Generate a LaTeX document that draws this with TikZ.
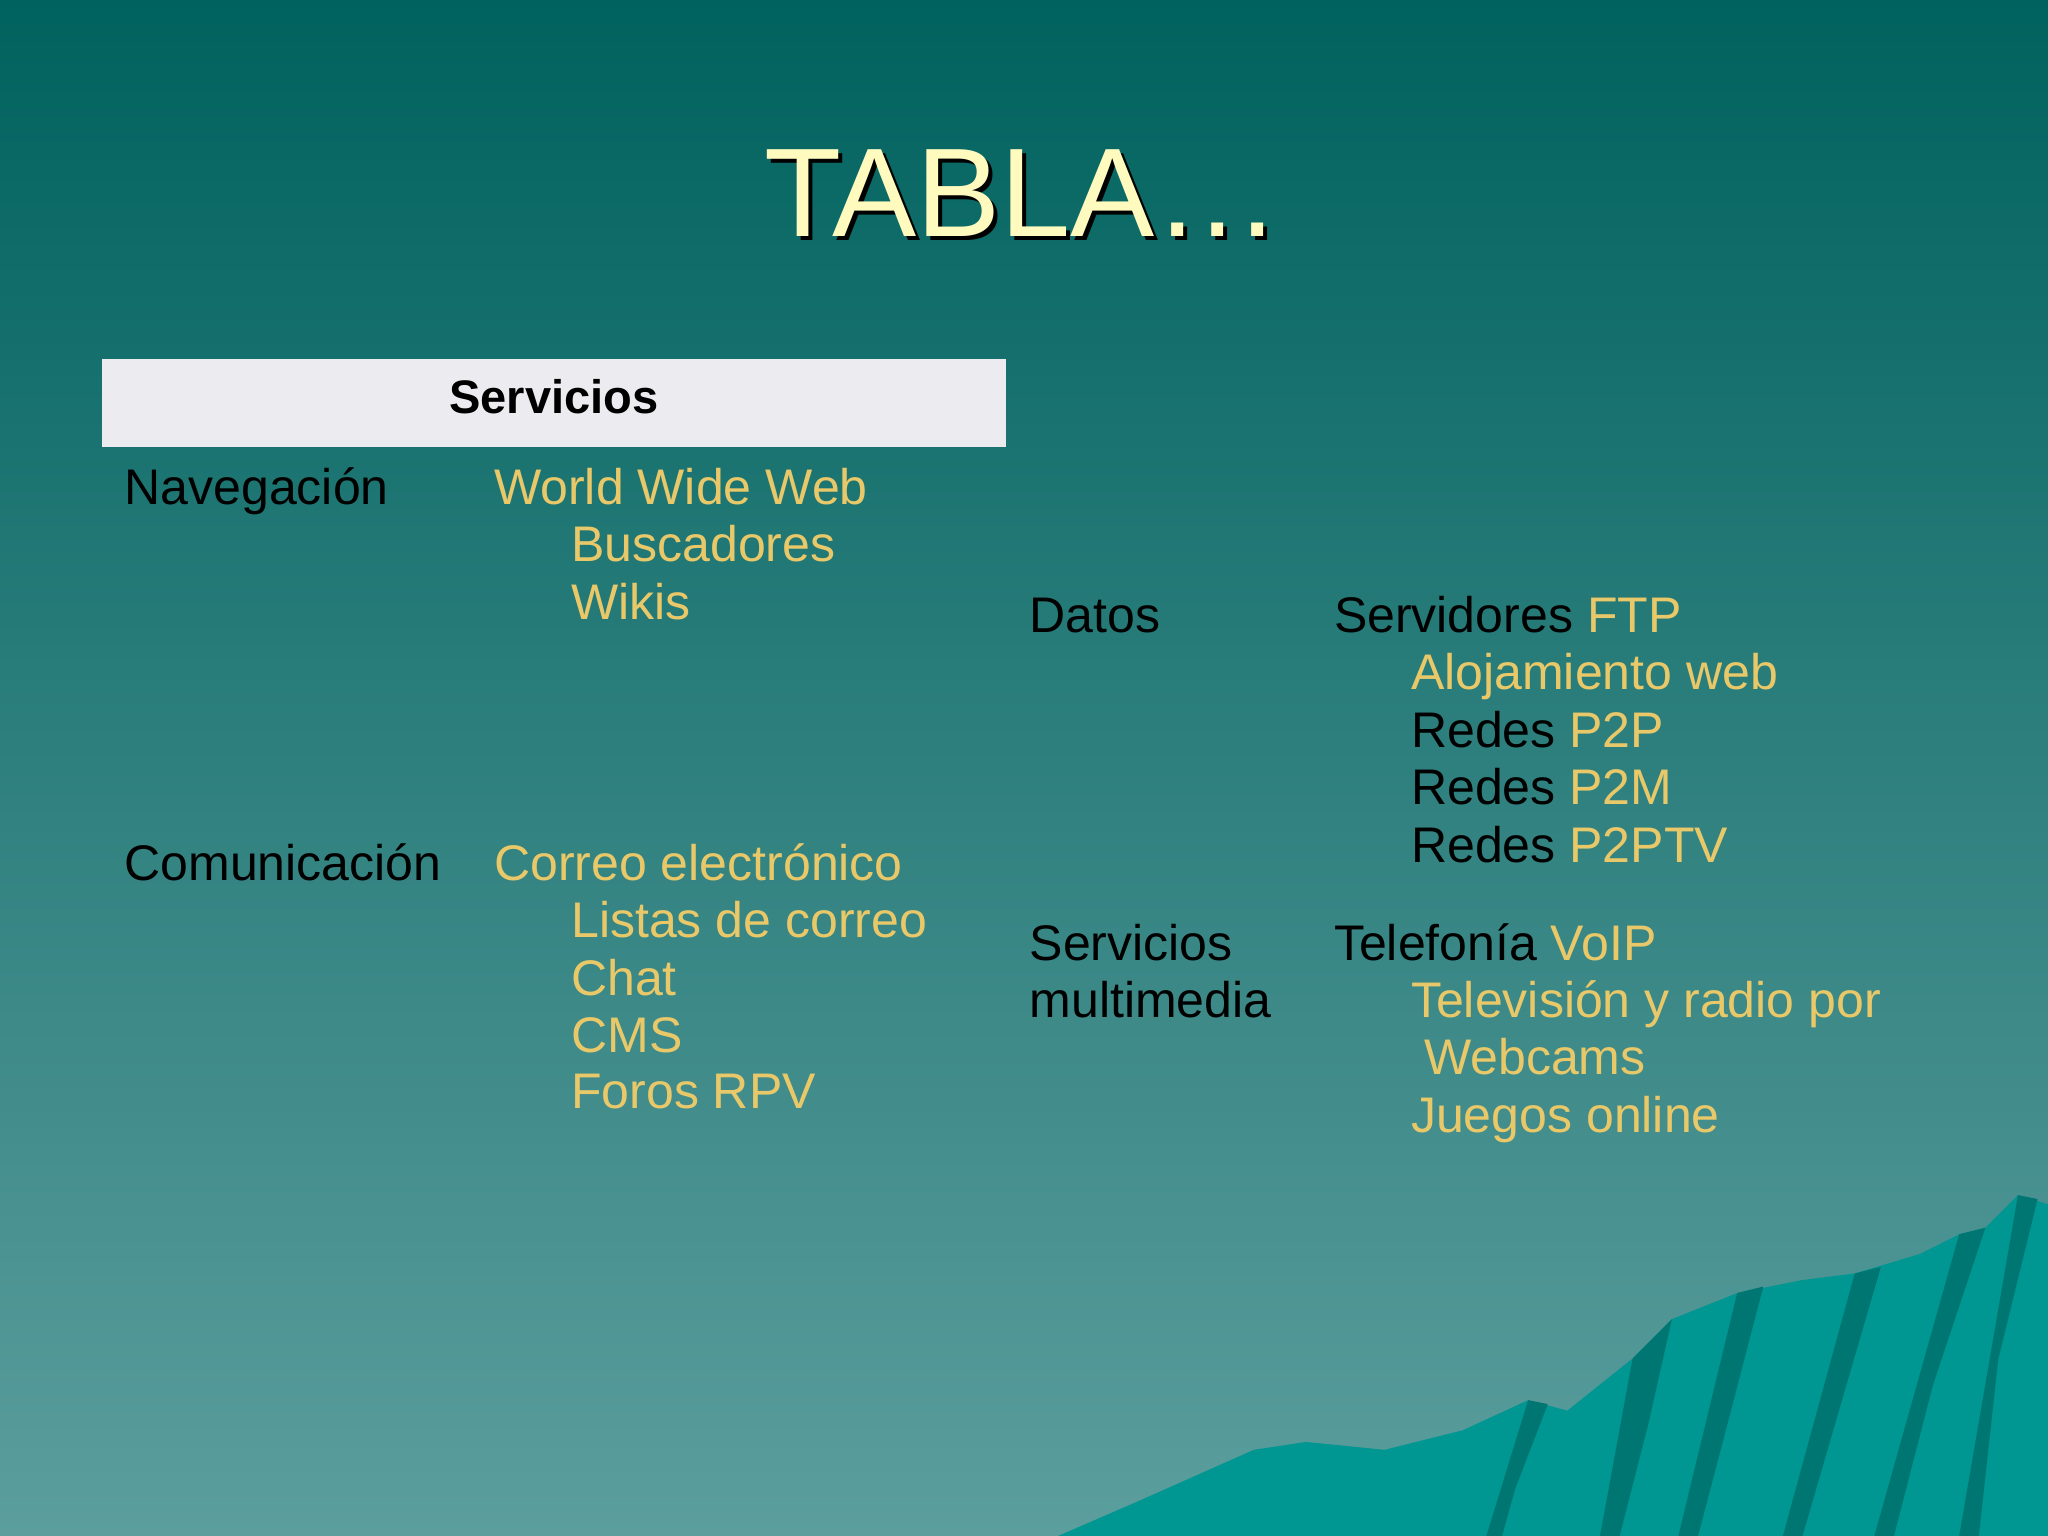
\documentclass[tikz,border=0pt]{standalone}
\usepackage{fontspec}
\setmainfont{Liberation Sans}
\definecolor{bgtop}{RGB}{0,98,94}
\definecolor{bgbot}{RGB}{92,158,158}
\definecolor{ytxt}{RGB}{232,200,105}
\definecolor{ttl}{RGB}{255,250,190}
\definecolor{mtn}{RGB}{0,150,145}
\definecolor{mtnd}{RGB}{0,118,115}
\begin{document}
\begin{tikzpicture}[x=0.02cm,y=-0.02cm,
  txt/.style={anchor=base west,inner sep=0pt,font=\fontsize{21.8}{24}\selectfont},
  yel/.style={txt,text=ytxt}]
\useasboundingbox (0,0) rectangle (1568,1176);
\shade[top color=bgtop,bottom color=bgbot] (0,0) rectangle (1568,1176);
% mountains
\fill[mtn] (810,1176) -- (870,1150) -- (960,1110) -- (1000,1104) -- (1060,1110) -- (1120,1095) -- (1170,1072) -- (1200,1080) -- (1250,1040) -- (1280,1010) -- (1330,990) -- (1380,980) -- (1420,975) -- (1470,960) -- (1500,945) -- (1520,940) -- (1545,915) -- (1568,922) -- (1568,1176) -- cycle;
\fill[mtnd] (1250,1040) -- (1280,1010) -- (1262,1090) -- (1240,1176) -- (1225,1176) -- cycle;
\fill[mtnd] (1330,990) -- (1350,985) -- (1320,1100) -- (1300,1176) -- (1285,1176) -- cycle;
\fill[mtnd] (1420,975) -- (1440,970) -- (1405,1090) -- (1380,1176) -- (1365,1176) -- cycle;
\fill[mtnd] (1500,945) -- (1520,940) -- (1480,1060) -- (1450,1176) -- (1435,1176) -- cycle;
\fill[mtnd] (1545,915) -- (1560,918) -- (1530,1040) -- (1515,1176) -- (1500,1176) -- cycle;
\fill[mtnd] (1170,1072) -- (1185,1075) -- (1160,1140) -- (1150,1176) -- (1138,1176) -- cycle;
% title
\node[text=black,font=\fontsize{55}{60}\selectfont] (tsh) at (786,151) {TABLA…};
\node[text=ttl,font=\fontsize{55}{60}\selectfont] (title) at (783,148) {TABLA…};
% header
\fill[fill={rgb,255:red,235;green,235;blue,240}] (78,275) rectangle (770,342);
\node[font=\bfseries\fontsize{20.5}{22}\selectfont] (hdr) at (424,304) {Servicios};
% left column
\node[txt] (nav) at (95,386) {Navegación};
\node[yel] (www) at (378,386) {World Wide Web};
\node[yel] (bus) at (437,430) {Buscadores};
\node[yel] (wik) at (437,474) {Wikis};
\node[txt] (com) at (95,674) {Comunicación};
\node[yel] (cor) at (378,674) {Correo electrónico};
\node[yel] (lis) at (437,718) {Listas de correo};
\node[yel] (cha) at (437,762) {Chat};
\node[yel] (cms) at (437,806) {CMS};
\node[yel] (for) at (437,849) {Foros RPV};
% right column
\node[txt] (dat) at (788,484) {Datos};
\node[txt] (ser) at (1021,484) {Servidores \textcolor{ytxt}{FTP}};
\node[yel] (alo) at (1080,528) {Alojamiento web};
\node[txt] (p2p) at (1080,572) {Redes \textcolor{ytxt}{P2P}};
\node[txt] (p2m) at (1080,616) {Redes \textcolor{ytxt}{P2M}};
\node[txt] (p2t) at (1080,660) {Redes \textcolor{ytxt}{P2PTV}};
\node[txt] (sm1) at (788,735) {Servicios};
\node[txt] (sm2) at (788,779) {multimedia};
\node[txt] (tel) at (1021,735) {Telefonía \textcolor{ytxt}{VoIP}};
\node[yel] (tv) at (1080,779) {Televisión y radio por};
\node[yel] (web) at (1090,823) {Webcams};
\node[yel] (jue) at (1080,867) {Juegos online};
\end{tikzpicture}
\end{document}
